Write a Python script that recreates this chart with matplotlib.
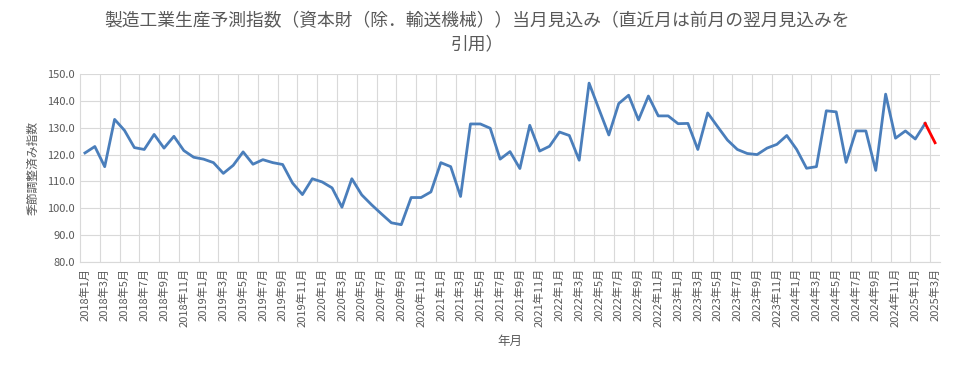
import matplotlib
matplotlib.use("Agg")
import matplotlib.pyplot as plt
import numpy as np

plt.rcParams['font.family'] = ['Noto Sans CJK JP', 'DejaVu Sans']

# monthly values, 2018-01 .. 2025-03
values = [
    120.6, 123.0, 115.5, 133.1, 129.0, 122.6, 121.9, 127.5, 122.4, 126.8, 121.5, 119.0,
    118.3, 117.0, 113.0, 116.0, 121.0, 116.4, 118.1, 117.0, 116.3, 109.4, 105.1, 111.0,
    109.8, 107.6, 100.4, 111.0, 105.0, 101.3, 97.9, 94.6, 93.9, 104.0, 104.0, 106.1,
    117.0, 115.5, 104.4, 131.4, 131.4, 129.8, 118.3, 121.1, 114.8, 130.9, 121.3, 123.1,
    128.4, 127.1, 117.9, 146.6, 136.9, 127.3, 139.0, 142.1, 132.9, 141.8, 134.4, 134.4,
    131.5, 131.6, 121.9, 135.5, 130.4, 125.4, 121.9, 120.4, 120.0, 122.4, 123.8, 127.1,
    121.9, 114.9, 115.5, 136.3, 135.9, 117.1, 128.8, 128.8, 114.1, 142.5, 126.1, 128.8,
    125.8, 131.6, 124.4,
]
months = [f"{2018 + k // 12}年{k % 12 + 1}月" for k in range(len(values))]
title = "製造工業生産予測指数（資本財（除．輸送機械））当月見込み（直近月は前月の翌月見込みを\n引用）"

grey = '#595959'
x = np.arange(len(values))

fig = plt.figure(figsize=(9.54, 3.68), dpi=100)
ax = fig.add_axes([80 / 954, 1 - 262 / 368, 860 / 954, 188 / 368])

ax.plot(x[:-1], values[:-1], color='#4a7ebb', lw=2.0, solid_joinstyle='round')
ax.plot(x[-2:], values[-2:], color='#ff0000', lw=2.0)

ax.set_xlim(-0.5, len(values) - 0.5)
ax.set_ylim(80, 150)
ax.set_yticks(np.arange(80, 151, 10))
ax.set_yticklabels([f"{v:.1f}" for v in range(80, 151, 10)])
ax.set_xticks(x[::2])
ax.set_xticklabels(months[::2], rotation=90)
ax.set_xticks(np.arange(1.5, len(values) - 1, 2), minor=True)

ax.grid(axis='y', which='major', color='#d9d9d9', lw=0.8)
ax.grid(axis='x', which='minor', color='#d9d9d9', lw=0.8)
ax.set_axisbelow(True)
ax.tick_params(axis='both', which='both', length=0, colors=grey, labelsize=8)
ax.tick_params(axis='x', pad=4)
for s in ['top', 'right']:
    ax.spines[s].set_visible(False)
for s in ['left', 'bottom']:
    ax.spines[s].set_color('#d9d9d9')

ax.set_ylabel('季節調整済み指数', color=grey, fontsize=8.5, labelpad=6)
ax.set_xlabel('年月', color=grey, fontsize=9, labelpad=6)
fig.text(0.5, 1 - 33 / 368, title, ha='center', va='center', color=grey,
         fontsize=12.8, linespacing=1.35)

fig.savefig('out.png', dpi=100)
